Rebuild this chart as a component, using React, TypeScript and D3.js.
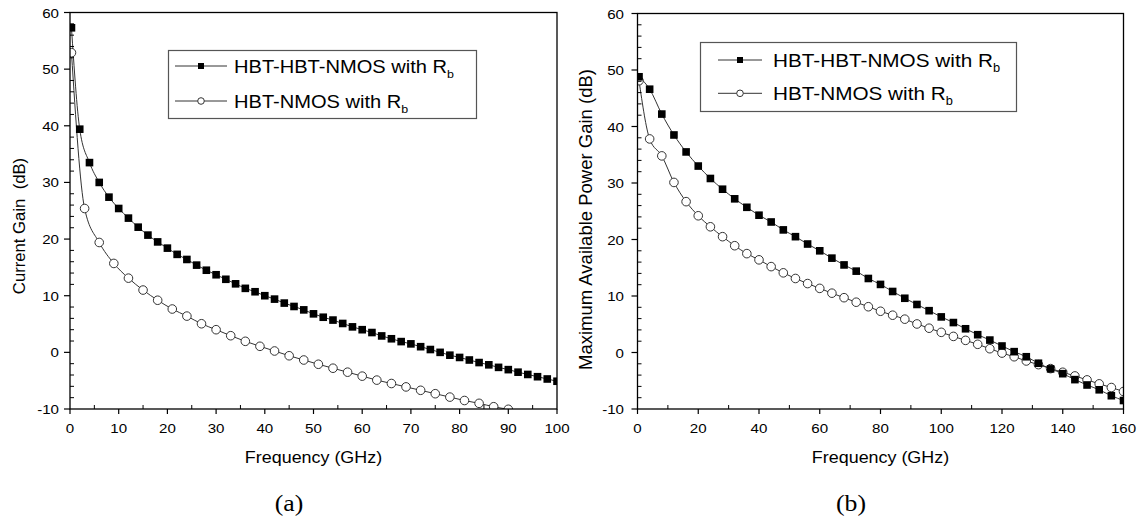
import React from 'react';
import * as d3 from 'd3';

const W = 1142;
const H = 520;

// Panel (a): current gain versus frequency
const freqA_hhn = [0.3, 2, 4, 6, 8, 10, 12, 14, 16, 18, 20, 22, 24, 26, 28, 30, 32, 34, 36, 38, 40, 42, 44, 46, 48, 50, 52, 54, 56, 58, 60, 62, 64, 66, 68, 70, 72, 74, 76, 78, 80, 82, 84, 86, 88, 90, 92, 94, 96, 98, 100];
const gainA_hhn = [57.3, 39.4, 33.5, 30.0, 27.4, 25.4, 23.7, 22.1, 20.7, 19.5, 18.4, 17.3, 16.4, 15.4, 14.5, 13.7, 12.9, 12.1, 11.3, 10.7, 10.0, 9.4, 8.7, 8.1, 7.5, 6.8, 6.2, 5.7, 5.1, 4.5, 4.0, 3.5, 2.9, 2.4, 1.9, 1.5, 1.0, 0.5, 0.0, -0.5, -0.9, -1.35, -1.8, -2.2, -2.65, -3.05, -3.5, -3.9, -4.3, -4.7, -5.1];
const freqA_hn = [0.3, 3, 6, 9, 12, 15, 18, 21, 24, 27, 30, 33, 36, 39, 42, 45, 48, 51, 54, 57, 60, 63, 66, 69, 72, 75, 78, 81, 84, 87, 90];
const gainA_hn = [52.9, 25.4, 19.4, 15.7, 13.1, 11.0, 9.2, 7.65, 6.4, 5.05, 4.0, 2.94, 1.95, 1.07, 0.24, -0.6, -1.35, -2.1, -2.8, -3.5, -4.2, -4.9, -5.5, -6.1, -6.7, -7.3, -7.9, -8.5, -9.0, -9.6, -10.05];

// Panel (b): maximum available power gain versus frequency
const freqB_hhn = [0.5, 4, 8, 12, 16, 20, 24, 28, 32, 36, 40, 44, 48, 52, 56, 60, 64, 68, 72, 76, 80, 84, 88, 92, 96, 100, 104, 108, 112, 116, 120, 124, 128, 132, 136, 140, 144, 148, 152, 156, 160];
const gainB_hhn = [48.8, 46.6, 42.2, 38.5, 35.5, 33.0, 30.8, 28.9, 27.2, 25.7, 24.3, 23.1, 21.7, 20.5, 19.2, 18.0, 16.7, 15.5, 14.4, 13.1, 12.05, 10.8, 9.6, 8.5, 7.4, 6.3, 5.3, 4.2, 3.15, 2.2, 1.15, 0.15, -0.75, -1.9, -2.9, -3.75, -4.8, -5.75, -6.6, -7.65, -8.5];
const freqB_hn = [0.5, 4, 8, 12, 16, 20, 24, 28, 32, 36, 40, 44, 48, 52, 56, 60, 64, 68, 72, 76, 80, 84, 88, 92, 96, 100, 104, 108, 112, 116, 120, 124, 128, 132, 136, 140, 144, 148, 152, 156, 160];
const gainB_hn = [48.1, 37.8, 34.8, 30.1, 26.7, 24.2, 22.25, 20.5, 18.9, 17.5, 16.4, 15.2, 14.1, 13.1, 12.2, 11.35, 10.5, 9.7, 8.9, 8.1, 7.3, 6.6, 5.9, 5.05, 4.3, 3.57, 2.85, 2.15, 1.45, 0.67, -0.1, -0.75, -1.5, -2.15, -2.85, -3.5, -4.15, -4.85, -5.55, -6.2, -6.9];

const seriesNames = ['HBT-HBT-NMOS with R', 'HBT-NMOS with R'];
const seriesSub = 'b';

const yTicks = [-10, 0, 10, 20, 30, 40, 50, 60];
const yMinorTicks = [-8, -6, -4, -2, 2, 4, 6, 8, 12, 14, 16, 18, 22, 24, 26, 28, 32, 34, 36, 38, 42, 44, 46, 48, 52, 54, 56, 58];
const xTicksA = [0, 10, 20, 30, 40, 50, 60, 70, 80, 90, 100];
const xMinorA = [5, 15, 25, 35, 45, 55, 65, 75, 85, 95];
const xTicksB = [0, 20, 40, 60, 80, 100, 120, 140, 160];
const xMinorB = [10, 30, 50, 70, 90, 110, 130, 150];

const FONT = 'Arial, "Liberation Sans", sans-serif';
const SX = 1.12;

type PanelProps = {
  id: string;
  left: number;
  right: number;
  top: number;
  bottom: number;
  xMax: number;
  xTicks: number[];
  xMinor: number[];
  filled: { x: number[]; y: number[] };
  open: { x: number[]; y: number[] };
  yLabel: string;
  yLabelX: number;
  yLabelY: number;
  yLabelSize: number;
  yTickEnd: number;
  caption: string;
  captionX: number;
  legend: { x0: number; y0: number; x1: number; y1: number; rows: number[]; lx0: number; lx1: number; tx: number; size: number };
};

function HText({ x, y, size, anchor, children, family }: any) {
  return (
    <g transform={`translate(${x},${y}) scale(${SX},1)`}>
      <text x={0} y={0} fontSize={size} textAnchor={anchor || 'start'} fontFamily={family || FONT} fill="#000">
        {children}
      </text>
    </g>
  );
}

function Panel(p: PanelProps) {
  const x = d3.scaleLinear().domain([0, p.xMax]).range([p.left, p.right]);
  const y = d3.scaleLinear().domain([-10, 60]).range([p.bottom, p.top]);
  const line = d3
    .line<[number, number]>()
    .x((d) => x(d[0]))
    .y((d) => y(d[1]))
    .curve(d3.curveMonotoneX);
  const filledPts = p.filled.x.map((v, i) => [v, p.filled.y[i]] as [number, number]);
  const openPts = p.open.x.map((v, i) => [v, p.open.y[i]] as [number, number]);
  const clipId = `clip-${p.id}`;
  const sq = 7.6;
  const cr = 4.3;
  const lg = p.legend;
  const midX = (p.left + p.right) / 2;

  return (
    <g>
      <defs>
        <clipPath id={clipId}>
          <rect x={p.left} y={p.top} width={p.right - p.left} height={p.bottom - p.top} />
        </clipPath>
      </defs>

      <g clipPath={`url(#${clipId})`}>
        <path d={line(filledPts) || ''} fill="none" stroke="#333" strokeWidth={1} />
        <path d={line(openPts) || ''} fill="none" stroke="#333" strokeWidth={1} />
        {openPts.map((d, i) => (
          <circle key={`o${i}`} cx={x(d[0])} cy={y(d[1])} r={cr} fill="#fff" stroke="#333" strokeWidth={1} />
        ))}
        {filledPts.map((d, i) => (
          <rect key={`f${i}`} x={x(d[0]) - sq / 2} y={y(d[1]) - sq / 2} width={sq} height={sq} fill="#000" />
        ))}
      </g>

      {/* frame */}
      <rect x={p.left} y={p.top} width={p.right - p.left} height={p.bottom - p.top} fill="none" stroke="#000" strokeWidth={1.3} />

      {/* y axis ticks */}
      {yTicks.map((t) => (
        <g key={`yt${t}`}>
          <line x1={p.left - 6} x2={p.left} y1={y(t)} y2={y(t)} stroke="#000" strokeWidth={1.2} />
          <HText x={p.yTickEnd} y={y(t) + 5} size={13.5} anchor="end">{t}</HText>
        </g>
      ))}
      {yMinorTicks.map((t) => (
        <line key={`ym${t}`} x1={p.left} x2={p.left + 4} y1={y(t)} y2={y(t)} stroke="#000" strokeWidth={1} />
      ))}

      {/* x axis ticks */}
      {p.xTicks.map((t) => (
        <g key={`xt${t}`}>
          <line x1={x(t)} x2={x(t)} y1={p.bottom} y2={p.bottom + 5} stroke="#000" strokeWidth={1.2} />
          <HText x={x(t)} y={p.bottom + 24} size={13.5} anchor="middle">{t}</HText>
        </g>
      ))}
      {p.xMinor.map((t) => (
        <line key={`xm${t}`} x1={x(t)} x2={x(t)} y1={p.bottom} y2={p.bottom - 4} stroke="#000" strokeWidth={1} />
      ))}

      {/* axis titles */}
      <HText x={midX} y={p.bottom + 54} size={16} anchor="middle">Frequency (GHz)</HText>
      <text
        transform={`translate(${p.yLabelX},${p.yLabelY}) rotate(-90)`}
        fontSize={p.yLabelSize}
        fontFamily={FONT}
        textAnchor="middle"
        style={{ whiteSpace: 'pre' }}
      >
        {p.yLabel}
      </text>

      {/* caption */}
      <HText x={p.captionX} y={511} size={23} anchor="middle" family={'"Liberation Serif", "Times New Roman", serif'}>
        {p.caption}
      </HText>

      {/* legend */}
      <rect x={lg.x0} y={lg.y0} width={lg.x1 - lg.x0} height={lg.y1 - lg.y0} fill="#fff" stroke="#555" strokeWidth={1.2} />
      {seriesNames.map((name, i) => {
        const ry = lg.rows[i];
        const mx = (lg.lx0 + lg.lx1) / 2;
        return (
          <g key={`lg${i}`}>
            <line x1={lg.lx0} x2={lg.lx1} y1={ry} y2={ry} stroke="#333" strokeWidth={1} />
            {i === 0 ? (
              <rect x={mx - 3} y={ry - 3} width={6} height={6} fill="#000" />
            ) : (
              <circle cx={mx} cy={ry} r={3.3} fill="#fff" stroke="#333" strokeWidth={1} />
            )}
            <g transform={`translate(${lg.tx},${ry + 7}) scale(1.08,1)`}>
              <text x={0} y={0} fontSize={lg.size} fontFamily={FONT} fill="#000">
                {name}
                <tspan fontSize={lg.size * 0.62} dy={5}>{seriesSub}</tspan>
              </text>
            </g>
          </g>
        );
      })}
    </g>
  );
}

export default function App() {
  return (
    <svg
      width={W}
      height={H}
      viewBox={`0 0 ${W} ${H}`}
      style={{ position: 'absolute', left: 0, top: 0, background: '#fff' }}
    >
      <rect x={0} y={0} width={W} height={H} fill="#fff" />
      <Panel
        id="a"
        left={70}
        right={557}
        top={12.5}
        bottom={409}
        xMax={100}
        xTicks={xTicksA}
        xMinor={xMinorA}
        filled={{ x: freqA_hhn, y: gainA_hhn }}
        open={{ x: freqA_hn, y: gainA_hn }}
        yLabel={'Current Gain  (dB)'}
        yLabelX={24.5}
        yLabelY={226}
        yLabelSize={16.7}
        yTickEnd={59}
        caption="(a)"
        captionX={289}
        legend={{ x0: 168.5, y0: 50.5, x1: 476.5, y1: 118.5, rows: [66, 101], lx0: 175, lx1: 227, tx: 234, size: 18.6 }}
      />
      <Panel
        id="b"
        left={637.5}
        right={1123.5}
        top={13.5}
        bottom={409}
        xMax={160}
        xTicks={xTicksB}
        xMinor={xMinorB}
        filled={{ x: freqB_hhn, y: gainB_hhn }}
        open={{ x: freqB_hn, y: gainB_hn }}
        yLabel={'Maximum Available Power Gain (dB)'}
        yLabelX={591.5}
        yLabelY={219.5}
        yLabelSize={18.5}
        yTickEnd={624}
        caption="(b)"
        captionX={851}
        legend={{ x0: 700.5, y0: 42.5, x1: 1016.5, y1: 111.5, rows: [60, 93.3], lx0: 718, lx1: 762, tx: 773, size: 19.2 }}
      />
    </svg>
  );
}
